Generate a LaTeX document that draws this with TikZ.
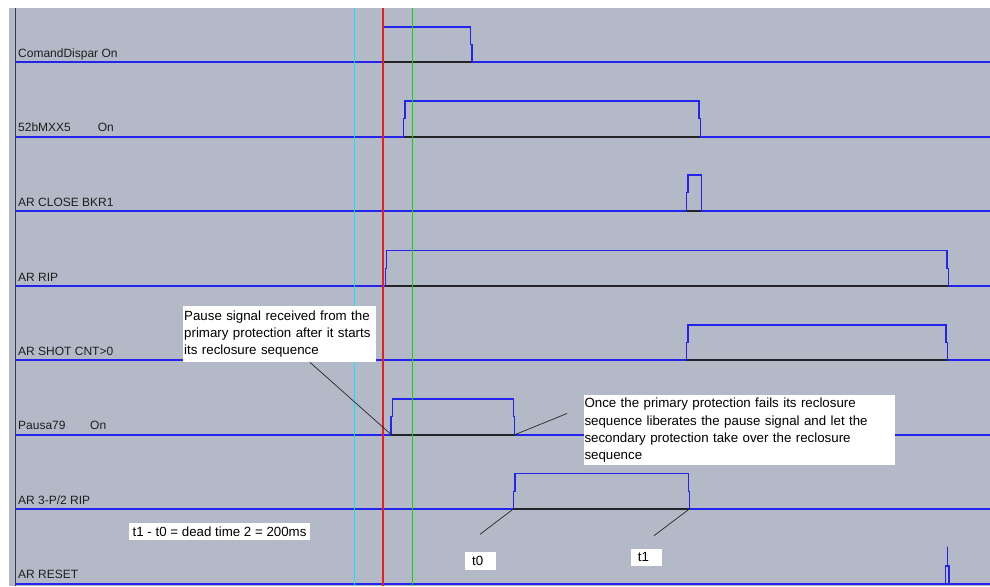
\documentclass[tikz,border=0pt]{standalone}
\usepackage{fontspec}
\setmainfont{Liberation Sans}
\usetikzlibrary{calc}
\definecolor{bggray}{RGB}{179,185,199}
\definecolor{sigblue}{RGB}{35,35,235}
\definecolor{darkbase}{RGB}{35,35,40}
\definecolor{cursorcyan}{RGB}{0,235,255}
\definecolor{cursorred}{RGB}{235,30,30}
\definecolor{cursorgreen}{RGB}{0,225,0}
\definecolor{leftbar}{RGB}{55,58,68}
\definecolor{labeltext}{RGB}{30,30,30}
% #1 base y, #2 high y, #3 step y, #4 rise bottom x, #5 rise top x, #6 fall top x, #7 fall bottom x
\newcommand{\sigpulse}[7]{%
  \draw[highbase] (#4,#1) -- (#7,#1);
  \draw[sig] (#4,#1) -- (#4,#3) -- (#5,#3) -- (#5,#2) -- (#6,#2) -- (#6,#3) -- (#7,#3) -- (#7,#1);
}
\begin{document}
\begin{tikzpicture}[x=1pt,y=-1pt,
  sig/.style={draw=sigblue,line width=1.2pt,line join=miter},
  highbase/.style={draw=darkbase,line width=1.3pt},
  cursor/.style={line width=1.3pt},
  siglabel/.style={anchor=base west,inner sep=0pt,text=labeltext,font=\fontsize{12}{14}\selectfont},
  callout/.style={fill=white,inner ysep=0pt,inner xsep=1pt,align=left,anchor=north west,
    text=black,font=\fontsize{13.3}{17.2}\selectfont},
  tagbox/.style={fill=white,inner ysep=0pt,align=left,text=black,font=\fontsize{13.3}{16}\selectfont},
  ptr/.style={draw=black!85,line width=0.7pt}]
\useasboundingbox (0,0) rectangle (990,586);
\fill[white] (0,0) rectangle (990,586);
\fill[bggray] (9,8) rectangle (990,586);
\draw[leftbar,line width=1.5pt] (15.5,8) -- (15.5,586);
% baselines
\draw[sig] (16,62) -- (990,62);
\draw[sig] (16,137) -- (990,137);
\draw[sig] (16,211) -- (990,211);
\draw[sig] (16,286) -- (990,286);
\draw[sig] (16,360) -- (990,360);
\draw[sig] (16,435) -- (990,435);
\draw[sig] (16,509) -- (990,509);
\draw[sig] (16,584) -- (990,584);
% pulses
\sigpulse{62}{27}{44.3}{383.3}{383.3}{470.7}{472}
\sigpulse{137}{101}{118.3}{403.7}{405}{699}{700.3}
\sigpulse{211}{175}{192.7}{686.3}{688}{701.3}{701.3}
\sigpulse{286}{250.7}{268.3}{385.3}{386.7}{947}{948.7}
\sigpulse{360}{325}{342.7}{686.3}{688}{946}{947.3}
\sigpulse{435}{399}{416.7}{391}{392.7}{513.3}{514.7}
\sigpulse{509}{473.3}{491.7}{513.3}{515}{688.3}{689.3}
\draw[sig] (945.7,584) -- (945.7,566) -- (947.7,566) -- (947.7,546.7) -- (947.7,566) -- (949,566) -- (949,584);
% cursors
\draw[cursor,cursorcyan] (354.5,8) -- (354.5,586);
\draw[cursor,cursorred] (383,8) -- (383,586);
\draw[cursor,cursorgreen] (412.7,8) -- (412.7,586);
% labels
\node[siglabel] (l1) at (18,57) {ComandDispar On};
\node[siglabel] (l2) at (18,131) {52bMXX5};
\node[siglabel] (l2b) at (97.7,131) {On};
\node[siglabel] (l3) at (18,206) {AR CLOSE BKR1};
\node[siglabel] (l4) at (18,281) {AR RIP};
\node[siglabel] (l5) at (18,355) {AR SHOT CNT>0};
\node[siglabel] (l6) at (18,429.5) {Pausa79};
\node[siglabel] (l6b) at (90,429.5) {On};
\node[siglabel] (l7) at (18,504) {AR 3-P/2 RIP};
\node[siglabel] (l8) at (18,578) {AR RESET};
% callouts
\node[callout,text width=191pt,minimum height=56pt] (c1) at (183,306)
  {Pause signal received from the\\primary protection after it starts\\its reclosure sequence};
\node[callout,text width=309.7pt,minimum height=70pt] (c2) at (583.3,395)
  {Once the primary protection fails its reclosure\\sequence liberates the pause signal and let the\\secondary protection take over the reclosure\\sequence};
\node[tagbox,anchor=west,inner xsep=3.5pt,minimum height=17pt] (dt) at (129,531.5)
  {t1 - t0 = dead time 2 = 200ms};
\node[tagbox,anchor=north west,inner xsep=7pt,text width=17pt,minimum height=17.6pt] (t0) at (465,551.7) {t0};
\node[tagbox,anchor=north west,inner xsep=7pt,text width=16.6pt,minimum height=17.4pt] (t1) at (630.7,548.3) {t1};
% pointers
\coordinate (p1) at (391.7,435);
\draw[ptr] ($(c1.south west)+(127,0)$) -- (p1);
\coordinate (p2a) at (514,435);
\coordinate (p2b) at (567,413.5);
\draw[ptr] (p2a) -- (p2b);
\coordinate (t0a) at (480,534.3);
\coordinate (t0b) at (513.3,509);
\draw[ptr] (t0a) -- (t0b);
\coordinate (t1a) at (654,535.7);
\coordinate (t1b) at (689.3,509);
\draw[ptr] (t1a) -- (t1b);
\end{tikzpicture}
\end{document}
